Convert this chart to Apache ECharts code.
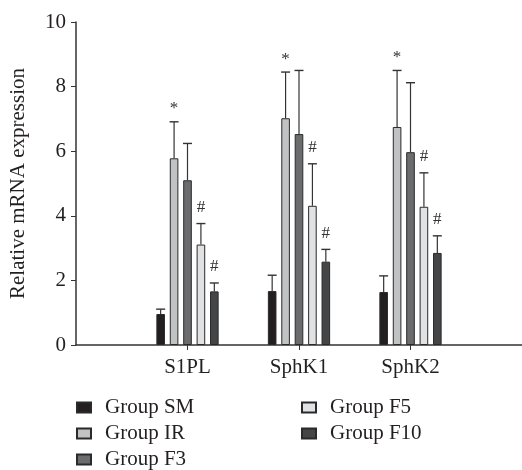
<!DOCTYPE html>
<html><head><meta charset="utf-8">
<script src="https://cdn.jsdelivr.net/npm/echarts@6/dist/echarts.min.js"></script>
<style>html,body{margin:0;padding:0;background:#fff}#c{width:522px;height:470px}</style>
</head><body><div id="c"></div>
<script>
// Data (empty categories pad the axis on both ends)
const categories = ['', 'S1PL', 'SphK1', 'SphK2', ''];
const groups = ['Group SM', 'Group IR', 'Group F3', 'Group F5', 'Group F10'];
const smMean   = [null, 0.96, 1.67, 1.64, null];
const smErr    = [null, 1.11, 2.16, 2.14, null];
const irMean   = [null, 5.78, 7.02, 6.75, null];
const irErr    = [null, 6.91, 8.45, 8.50, null];
const f3Mean   = [null, 5.10, 6.53, 5.97, null];
const f3Err    = [null, 6.24, 8.50, 8.12, null];
const f5Mean   = [null, 3.11, 4.31, 4.28, null];
const f5Err    = [null, 3.76, 5.61, 5.33, null];
const f10Mean  = [null, 1.66, 2.58, 2.85, null];
const f10Err   = [null, 1.92, 2.96, 3.38, null];
const smMark   = ['', '', '', '', ''];
const irMark   = ['', '*', '*', '*', ''];
const f3Mark   = ['', '', '', '', ''];
const f5Mark   = ['', '#', '#', '#', ''];
const f10Mark  = ['', '#', '#', '#', ''];
const yMin = 0, yMax = 10, yInterval = 2;

const means = [smMean, irMean, f3Mean, f5Mean, f10Mean];
const errs = [smErr, irErr, f3Err, f5Err, f10Err];
const marks = [smMark, irMark, f3Mark, f5Mark, f10Mark];
const colors = ['#231f20', '#c1c2c4', '#6b6c6e', '#e1e2e3', '#444547'];

const FONT = 'Liberation Serif';
const FS = 21;
const BAR_W = 8.6, BAR_GAP = 0.56;
const PITCH = BAR_W * (1 + BAR_GAP);

const series = [];
groups.forEach((g, k) => {
  series.push({
    name: g, type: 'bar', barWidth: BAR_W, barGap: (BAR_GAP * 100) + '%',
    data: means[k],
    itemStyle: { color: colors[k], borderColor: '#2a2a2a', borderWidth: 1 },
    z: 2
  });
});
groups.forEach((g, k) => {
  const data = [];
  categories.forEach((c, i) => {
    if (means[k][i] != null) data.push([i, errs[k][i], means[k][i]]);
  });
  const offset = (k - 2) * PITCH;
  series.push({
    type: 'custom', z: 3, silent: true,
    data: data,
    renderItem: function (params, api) {
      const i = api.value(0);
      const top = api.coord([i, api.value(1)]);
      const base = api.coord([i, api.value(2)]);
      const mark = marks[k][i];
      const x = top[0] + offset;
      const children = [
        { type: 'line', shape: { x1: x, y1: base[1], x2: x, y2: top[1] }, style: { stroke: '#333', lineWidth: 1.2 } },
        { type: 'line', shape: { x1: x - 4.5, y1: top[1], x2: x + 4.5, y2: top[1] }, style: { stroke: '#333', lineWidth: 1.4 } }
      ];
      if (mark) {
        const dy = mark === '*' ? 13 : 16;
        children.push({ type: 'text', style: { text: mark, x: x, y: top[1] - dy, align: 'center', verticalAlign: 'middle', fontSize: 17, fontFamily: FONT, fill: '#333' } });
      }
      return { type: 'group', children: children };
    }
  });
});

const legendCommon = {
  orient: 'vertical', icon: 'rect', itemWidth: 14, itemHeight: 10, itemGap: 5,
  padding: 0, height: 90,
  textStyle: { fontSize: FS, lineHeight: 21, fontFamily: FONT, color: '#231f20', padding: [0, 0, 0, 9] }
};

const chart = echarts.init(document.getElementById('c'));
chart.setOption({
  animation: false,
  backgroundColor: '#fff',
  textStyle: { fontFamily: FONT },
  grid: { left: 76, right: -3, top: 22, bottom: 125, containLabel: false },
  legend: [
    Object.assign({ data: groups.slice(0, 3), left: 76, top: 397 }, legendCommon),
    Object.assign({ data: groups.slice(3), left: 301, top: 397 }, legendCommon)
  ],
  xAxis: {
    type: 'category', data: categories, boundaryGap: false,
    axisLine: { lineStyle: { color: '#333', width: 1.5 } },
    axisTick: { length: 5, lineStyle: { color: '#333' }, interval: (i, v) => v !== '' },
    axisLabel: { interval: (i, v) => v !== '', fontSize: FS, fontFamily: FONT, color: '#231f20', margin: 12 }
  },
  yAxis: {
    type: 'value', min: yMin, max: yMax, interval: yInterval,
    name: 'Relative mRNA expression', nameLocation: 'middle', nameGap: 47,
    nameTextStyle: { fontSize: FS, fontFamily: FONT, color: '#231f20' },
    axisLine: { show: true, lineStyle: { color: '#333', width: 1.5 } },
    axisTick: { show: true, length: 5, lineStyle: { color: '#333' } },
    splitLine: { show: false },
    axisLabel: { fontSize: FS, fontFamily: FONT, color: '#231f20', margin: 10 }
  },
  series: series
});
</script>
</body></html>
